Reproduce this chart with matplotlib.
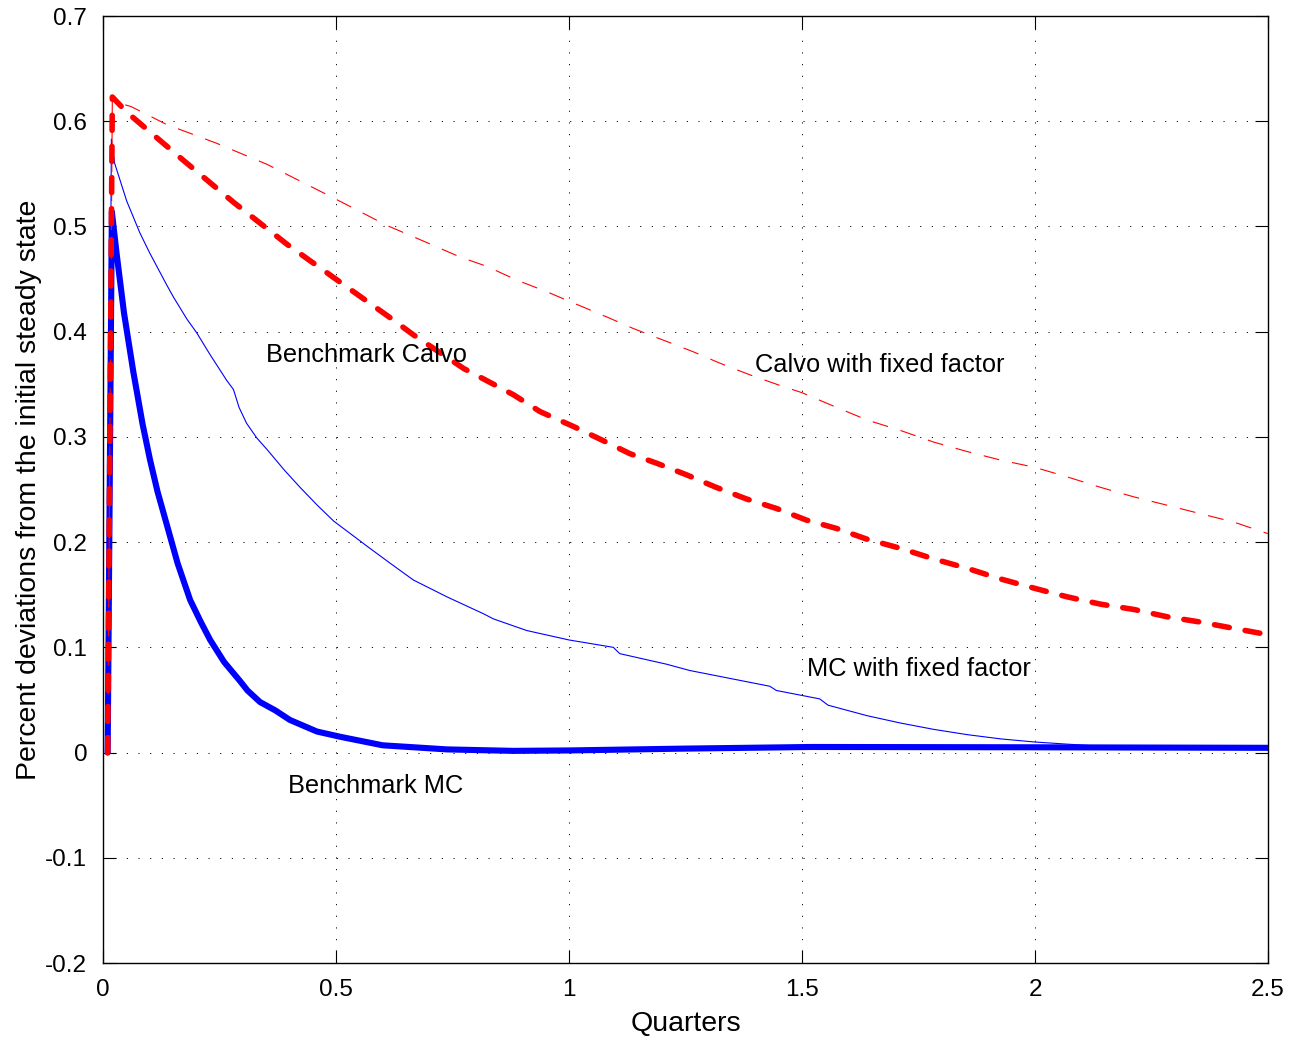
import matplotlib
matplotlib.use("Agg")
import matplotlib.pyplot as plt

plt.rcParams['font.family'] = ['Liberation Sans', 'DejaVu Sans']
plt.rcParams['lines.scale_dashes'] = False

# ---- data ----
bench_mc_x = [0.01, 0.019, 0.029, 0.045, 0.065, 0.085, 0.101, 0.117, 0.136, 0.160, 0.187,
              0.210, 0.230, 0.260, 0.294, 0.310, 0.337, 0.370, 0.401, 0.459, 0.509, 0.60,
              0.738, 0.88, 1.0, 1.24, 1.52, 2.0, 2.5]
bench_mc_y = [0.0, 0.514, 0.475, 0.418, 0.362, 0.312, 0.278, 0.248, 0.218, 0.180, 0.145,
              0.124, 0.107, 0.086, 0.068, 0.059, 0.048, 0.040, 0.031, 0.020, 0.015, 0.0069,
              0.003, 0.0016, 0.002, 0.0037, 0.0053, 0.005, 0.0045]

mc_fixed_x = [0.01, 0.018, 0.025, 0.051, 0.079, 0.100, 0.136, 0.151, 0.180, 0.201, 0.230,
              0.265, 0.280, 0.292, 0.308, 0.330, 0.352, 0.390, 0.423, 0.460, 0.495, 0.567,
              0.616, 0.666, 0.738, 0.816, 0.838, 0.909, 1.0, 1.095, 1.109, 1.209, 1.259,
              1.431, 1.445, 1.538, 1.556, 1.640, 1.712, 1.783, 1.855, 1.926, 2.0, 2.069,
              2.141, 2.25, 2.5]
mc_fixed_y = [0.0, 0.583, 0.560, 0.524, 0.494, 0.475, 0.445, 0.433, 0.412, 0.399, 0.378,
              0.354, 0.345, 0.328, 0.313, 0.299, 0.288, 0.268, 0.252, 0.235, 0.220, 0.196,
              0.180, 0.164, 0.148, 0.132, 0.127, 0.116, 0.107, 0.100, 0.094, 0.084, 0.078,
              0.063, 0.059, 0.051, 0.045, 0.035, 0.028, 0.022, 0.017, 0.013, 0.010, 0.008,
              0.006, 0.005, 0.0045]

bench_calvo_x = [0.01, 0.02, 0.050, 0.172, 0.280, 0.395, 0.509, 0.617, 0.666, 0.774,
                 0.881, 0.938, 1.009, 1.066, 1.131, 1.188, 1.252, 1.316, 1.381, 1.445,
                 1.509, 1.574, 1.638, 1.712, 1.783, 1.855, 1.926, 2.0, 2.069, 2.141,
                 2.212, 2.284, 2.355, 2.427, 2.5]
bench_calvo_y = [0.0, 0.623, 0.609, 0.563, 0.523, 0.483, 0.447, 0.413, 0.397, 0.365,
                 0.340, 0.324, 0.310, 0.298, 0.284, 0.275, 0.264, 0.252, 0.241, 0.232,
                 0.221, 0.213, 0.203, 0.194, 0.184, 0.175, 0.165, 0.156, 0.148, 0.141,
                 0.136, 0.129, 0.124, 0.118, 0.112]

calvo_fixed_x = [0.01, 0.02, 0.036, 0.06, 0.136, 0.244, 0.352, 0.495, 0.609, 0.688,
                 0.766, 0.824, 0.888, 0.952, 1.0, 1.081, 1.138, 1.202, 1.266, 1.324,
                 1.388, 1.452, 1.5, 1.569, 1.640, 1.712, 1.783, 1.855, 1.926, 2.0,
                 2.069, 2.141, 2.212, 2.284, 2.355, 2.427, 2.5]
calvo_fixed_y = [0.0, 0.621, 0.617, 0.614, 0.597, 0.579, 0.559, 0.527, 0.501, 0.486,
                 0.471, 0.462, 0.449, 0.438, 0.429, 0.414, 0.403, 0.392, 0.381, 0.370,
                 0.359, 0.349, 0.342, 0.329, 0.316, 0.306, 0.295, 0.286, 0.278, 0.271,
                 0.262, 0.252, 0.243, 0.235, 0.227, 0.219, 0.208]

x_ticks = [0, 0.5, 1, 1.5, 2, 2.5]
x_tick_labels = ['0', '0.5', '1', '1.5', '2', '2.5']
y_ticks = [-0.2, -0.1, 0, 0.1, 0.2, 0.3, 0.4, 0.5, 0.6, 0.7]
y_tick_labels = ['-0.2', '-0.1', '0', '0.1', '0.2', '0.3', '0.4', '0.5', '0.6', '0.7']

annotations = [
    ("Benchmark Calvo", 0.349, 0.3716),
    ("Calvo with fixed factor", 1.399, 0.362),
    ("MC with fixed factor", 1.511, 0.0728),
    ("Benchmark MC", 0.398, -0.0387),
]

# ---- figure ----
W, H = 1306, 1040
fig = plt.figure(figsize=(W / 100, H / 100), dpi=100)
ax = fig.add_axes([103 / W, 1 - 963 / H, 1165 / W, 947 / H])

ax.plot(bench_mc_x, bench_mc_y, color='#0000ff', lw=4.4, solid_capstyle='round',
        solid_joinstyle='round', zorder=3)
ax.plot(mc_fixed_x, mc_fixed_y, color='#0000ff', lw=0.8, zorder=3)
ax.plot(bench_calvo_x, bench_calvo_y, color='#ff0000', lw=4.0,
        dashes=(10.8, 11.6), dash_capstyle='round', dash_joinstyle='round', zorder=4)
ax.plot(calvo_fixed_x, calvo_fixed_y, color='#ff0000', lw=0.8,
        dashes=(11.5, 9.4), zorder=4)

for txt, tx, ty in annotations:
    ax.text(tx, ty, txt, fontsize=18.3, ha='left', va='baseline', color='black', zorder=5)

ax.set_xlim(0, 2.5)
ax.set_ylim(-0.2, 0.7)
ax.set_xticks(x_ticks)
ax.set_xticklabels(x_tick_labels)
ax.set_yticks(y_ticks)
ax.set_yticklabels(y_tick_labels)

ax.tick_params(direction='in', length=9.4, width=0.8, labelsize=17.5, pad=11.3,
               top=True, right=True, color='black')
for s in ax.spines.values():
    s.set_linewidth(1.0)
    s.set_color('black')

ax.grid(True, color='black', lw=0.7, linestyle=(0, (0.8, 7.6)))
ax.set_axisbelow(True)

ax.set_xlabel('Quarters', fontsize=20.5)
ax.set_ylabel('Percent deviations from the initial steady state', fontsize=20.5)
ax.xaxis.set_label_coords(0.5, -(1010.9 - 963) / 947)
ax.yaxis.set_label_coords(-(103 - 42.5) / 1165, 0.5)

fig.savefig('out.png', dpi=100, facecolor='white')
